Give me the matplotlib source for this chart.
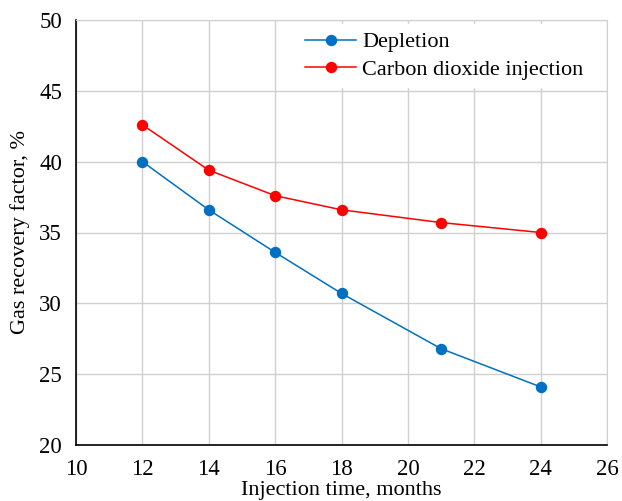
import numpy as np
import matplotlib.pyplot as plt

# injection time (months) and gas recovery factor (%)
months = [12, 14, 16, 18, 21, 24]
depletion = [40.0, 36.6, 33.6, 30.7, 26.8, 24.1]
co2_injection = [42.6, 39.4, 37.6, 36.6, 35.7, 35.0]

plt.rcParams['font.family'] = ['Liberation Serif', 'DejaVu Serif']

fig = plt.figure(figsize=(6.22, 5.01), dpi=100)
ax = fig.add_axes([76/622, 1-445/501, 531/622, 425/501])

ax.plot(months, depletion, color='#0070C0', marker='o', markersize=7.2,
        linewidth=1.1, label='Depletion')
ax.plot(months, co2_injection, color='#FF0000', marker='o', markersize=7.2,
        linewidth=1.1, label='Carbon dioxide injection')

ax.set_xlim(10, 26)
ax.set_ylim(20, 50)
ax.set_xticks(np.arange(10, 27, 2))
ax.set_yticks(np.arange(20, 51, 5))
ax.grid(True, color='#D0D0D0', linewidth=1.0)
ax.set_axisbelow(True)
ax.tick_params(length=0, labelsize=16.5)
ax.tick_params(axis='x', pad=10)
ax.tick_params(axis='y', pad=10)

for side in ['top', 'right']:
    ax.spines[side].set_color('#D0D0D0')
for side in ['left', 'bottom']:
    ax.spines[side].set_color('black')
    ax.spines[side].set_linewidth(1.2)

ax.set_xlabel('Injection time, months', fontsize=16, labelpad=1)
ax.set_ylabel('Gas recovery factor, %', fontsize=16, labelpad=7)

leg = ax.legend(loc='upper right', bbox_to_anchor=(0.972, 0.993), fontsize=16,
                frameon=True, fancybox=False, borderaxespad=0.05,
                handlelength=2.3, handletextpad=0.25, labelspacing=0.3,
                borderpad=0.35)
leg.get_frame().set_edgecolor('white')
leg.get_frame().set_alpha(1.0)

fig.savefig('out.png', dpi=100)
